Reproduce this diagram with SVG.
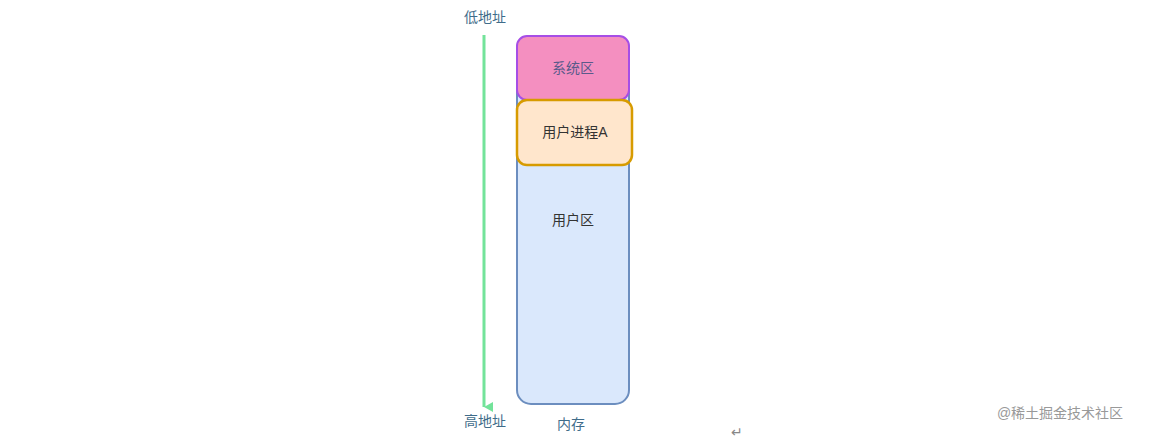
<svg xmlns="http://www.w3.org/2000/svg" width="1155" height="438" viewBox="0 0 1155 438">
<style>
text{font-family:"Liberation Sans","Noto Sans CJK SC",sans-serif;font-size:14px;text-anchor:middle}
.lbl{fill:#3f6c8a}
.in{fill:#333}
</style>
<defs><marker id="ah" markerWidth="10" markerHeight="10" refX="5" refY="9" orient="auto" markerUnits="userSpaceOnUse" viewBox="0 0 10 10"><path d="M0,0 L5,9 L10,0 Z" fill="#73e39a"/></marker></defs>
<rect width="1155" height="438" fill="#fff"/>
<g id="connectors"><line x1="484" y1="35" x2="484" y2="407" stroke="#73e39a" stroke-width="3" marker-end="url(#ah)"/></g>
<g id="mem"><rect x="517" y="36" width="112" height="368" rx="14" fill="#dae8fc" stroke="#6c8ebf" stroke-width="2"/><text x="573" y="225" class="in">用户区</text><text x="571" y="429" class="lbl">内存</text></g>
<g id="sys"><rect x="517" y="36" width="112" height="64" rx="10" fill="#f48fc0" stroke="#a64ee6" stroke-width="2"/><text x="573" y="73" fill="#5a5a8a">系统区</text></g>
<g id="procA"><rect x="517" y="100" width="115" height="65" rx="10" fill="#ffe6cc" stroke="#d79b00" stroke-width="2.5"/><text x="575" y="137" class="in">用户进程A</text></g>
<g id="low"><text x="485" y="22" class="lbl">低地址</text></g>
<g id="high"><text x="485" y="426" class="lbl">高地址</text></g>
<text x="737" y="437" fill="#888" font-size="16">↵</text>
<text x="1060" y="418" fill="#999" font-size="16">@稀土掘金技术社区</text>
</svg>
